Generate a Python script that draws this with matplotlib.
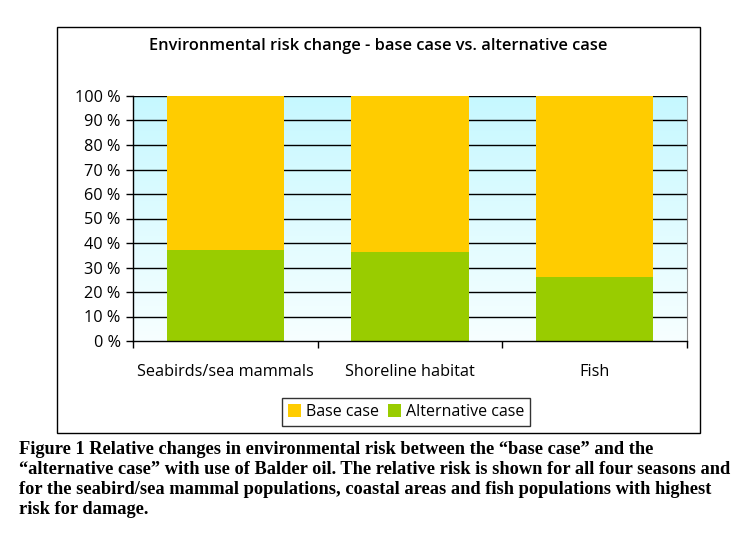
import numpy as np
import matplotlib
matplotlib.use("Agg")
import matplotlib.pyplot as plt
from matplotlib.patches import Rectangle
from matplotlib.colors import LinearSegmentedColormap

categories = ["Seabirds/sea mammals", "Shoreline habitat", "Fish"]
alternative = [37, 36.5, 26]
base = [100 - a for a in alternative]
yticks = list(range(0, 101, 10))

fig = plt.figure(figsize=(7.51, 5.36), dpi=100)
W, H = 751, 536

# outer chart frame
fig.patches.append(Rectangle((57/W, 1-433/H), (700-57)/W, (433-27)/H,
                             transform=fig.transFigure, fill=False,
                             edgecolor="black", linewidth=1.0))

ax = fig.add_axes([133/W, 1-341/H, (687-133)/W, (341-96)/H])
x = np.arange(len(categories))

# gradient background
grad = np.linspace(0, 1, 256).reshape(-1, 1)
cmap = LinearSegmentedColormap.from_list("bg", ["#F7FFFF", "#C6F8FF"])
ax.imshow(grad, aspect="auto", cmap=cmap, origin="lower",
          extent=[-0.5, 2.5, 0, 100], zorder=0)

for t in yticks[1:]:
    ax.axhline(t, color="black", linewidth=1.0, zorder=1)

ax.bar(x, alternative, width=0.635, color="#99CC00", zorder=2, label="Alternative case")
ax.bar(x, base, width=0.635, bottom=alternative, color="#FFCC00", zorder=2, label="Base case")

ax.set_xlim(-0.5, 2.5)
ax.set_ylim(0, 100)
ax.set_yticks(yticks)
ax.set_yticklabels(["%d %%" % t for t in yticks])
ax.set_xticks([-0.5, 0.5, 1.5, 2.5])
ax.set_xticklabels([])
ax.tick_params(axis="y", length=5, width=1, labelsize=11.7, pad=4, direction="out")
ax.tick_params(axis="x", length=5, width=1, direction="out")
for lbl in ax.get_yticklabels():
    lbl.set_family("Open Sans")
for i, c in enumerate(categories):
    ax.text(i, -12.5, c, ha="center", va="center", fontsize=11.7, family="Open Sans",
            transform=ax.transData)
ax.spines["top"].set_visible(False)
ax.spines["right"].set_color("#888888")
ax.spines["left"].set_linewidth(1.0)
ax.spines["bottom"].set_linewidth(1.0)

fig.text(378/W, 1-46/H, "Environmental risk change - base case vs. alternative case",
         ha="center", va="center", fontsize=11.8, family="Open Sans", weight="semibold")

h, l = ax.get_legend_handles_labels()
leg = fig.legend(h[::-1], l[::-1], loc="center", bbox_to_anchor=(406/W, 1-412/H),
                 ncol=2, frameon=True, fancybox=False, edgecolor="black",
                 prop={"family": "Open Sans", "size": 11.5}, handlelength=0.8,
                 handleheight=0.8, handletextpad=0.3, columnspacing=0.6,
                 borderpad=0.4, borderaxespad=0)
leg.get_frame().set_linewidth(1.0)

caption = ("Figure 1 Relative changes in environmental risk between the \u201cbase case\u201d and the\n"
           "\u201calternative case\u201d with use of Balder oil. The relative risk is shown for all four seasons and\n"
           "for the seabird/sea mammal populations, coastal areas and fish populations with highest\n"
           "risk for damage.")
fig.text(19/W, 1-441/H, caption, ha="left", va="top", fontsize=13.2,
         family="Liberation Serif", weight="bold", linespacing=1.24)

fig.savefig("out.png", dpi=100)
